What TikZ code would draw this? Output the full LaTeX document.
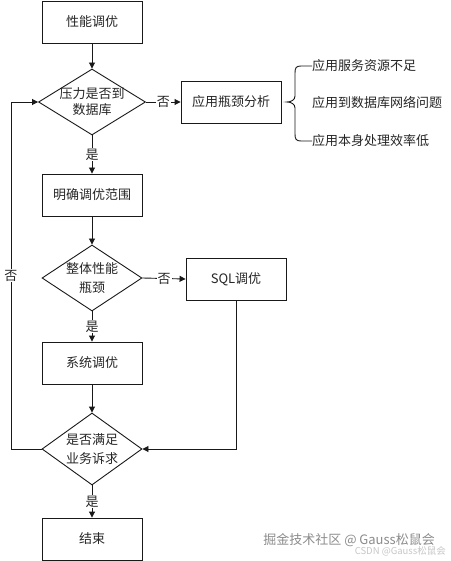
\documentclass[tikz,border=0pt]{standalone}
\usepackage{fontspec}
\setmainfont{Noto Sans CJK SC}
\usetikzlibrary{shapes.geometric,arrows.meta}
\begin{document}
\begin{tikzpicture}[x=1pt,y=-1pt,
  every node/.style={font=\fontsize{13pt}{16pt}\selectfont, text=black!85},
  box/.style={draw=black!90, line width=0.9pt, minimum width=100pt, minimum height=42pt, inner sep=0pt},
  dia/.style={draw=black!90, line width=0.9pt, diamond, inner sep=0pt},
  dtext/.style={align=center, inner sep=0pt},
  arr/.style={draw=black!90, line width=0.9pt, -{Triangle[length=6pt,width=6pt]}},
  ln/.style={draw=black!90, line width=0.9pt},
  lbl/.style={fill=white, inner sep=1pt},
  side/.style={anchor=west, inner sep=0pt}
]
\useasboundingbox (0,0) rectangle (450,561);
\fill[white] (0,0) rectangle (450,561);

% left column
\node[box] (b1) at (92,22) {性能调优};
\node[dia, minimum width=107pt, minimum height=66pt] (d1) at (92,102) {};
\node[dtext, font=\fontsize{13pt}{16pt}\selectfont] (t1) at (d1) {压力是否到\\数据库};
\node[box] (b2) at (92,195) {明确调优范围};
\node[dia, minimum width=100pt, minimum height=66pt] (d2) at (92,278) {};
\node[dtext, font=\fontsize{13pt}{19pt}\selectfont] (t2) at (d2) {整体性能\\瓶颈};
\node[box] (b3) at (92,363) {系统调优};
\node[dia, minimum width=100pt, minimum height=72pt] (d3) at (92,449) {};
\node[dtext, font=\fontsize{13pt}{19pt}\selectfont] (t3) at (d3) {是否满足\\业务诉求};
\node[box] (b4) at (92,539) {结束};

% right column
\node[box] (a1) at (231,102) {应用瓶颈分析};
\node[box] (sql) at (236,279) {SQL调优};

% side texts
\node[side] (s1) at (312,66) {应用服务资源不足};
\node[side] (s2) at (312,103) {应用到数据库网络问题};
\node[side] (s3) at (312,141) {应用本身处理效率低};

% brace
\draw[ln] (s1.west) -- (301,66) .. controls (296,66) and (295,68) .. (295,73)
  -- (295,96) .. controls (295,100) and (291,102) .. (287,102)
  .. controls (291,102) and (295,104) .. (295,108)
  -- (295,134) .. controls (295,139) and (296,141) .. (301,141) -- (s3.west);

% connectors
\draw[arr] (b1) -- (d1);
\draw[arr] (d1.east) -- node[lbl]{否} (a1.west);
\draw[arr] (d1.south) -- node[lbl]{是} (b2.north);
\draw[arr] (b2) -- (d2);
\draw[arr] (d2.east) -- node[lbl]{否} (sql.west);
\draw[arr] (d2.south) -- node[lbl]{是} (b3.north);
\draw[arr] (b3) -- (d3);
\draw[arr] (sql.south) |- (d3.east);
\coordinate (L3) at (11,449);
\coordinate (L1) at (11,102);
\draw[arr] (d3.west) -- (L3) -- node[lbl]{否} (L1) -- (d1.west);
\draw[arr] (d3.south) -- node[lbl]{是} (b4.north);

% watermark
\node[anchor=east, inner sep=0pt, text=black!45] (w1) at (435,540) {掘金技术社区 @ Gauss松鼠会};
\node[anchor=east, inner sep=0pt, text=black!22, font=\fontsize{9.5pt}{11pt}\selectfont] (w2) at (446,551) {CSDN @Gauss松鼠会};
\end{tikzpicture}
\end{document}
